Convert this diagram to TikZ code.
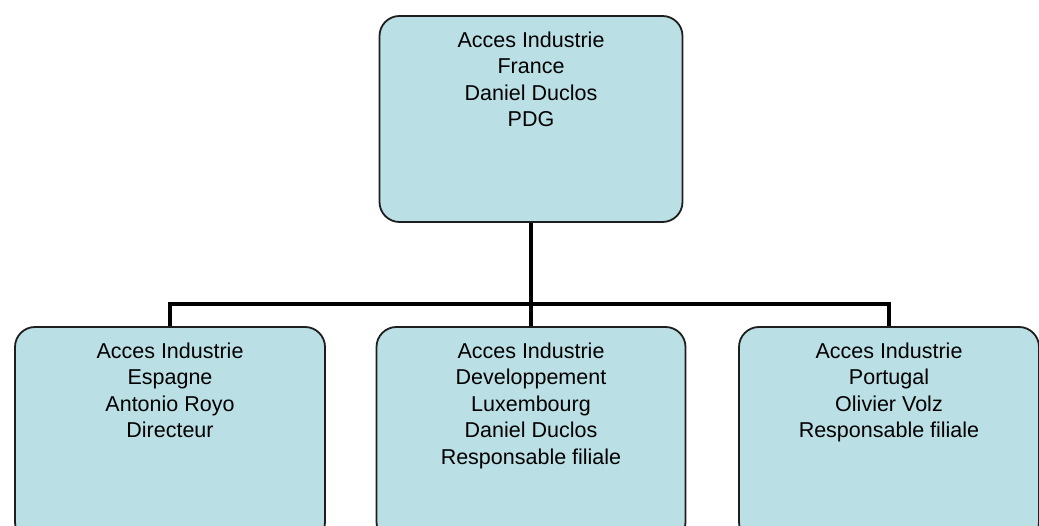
\documentclass[tikz,border=0pt]{standalone}
\usepackage{fontspec}
\setmainfont{Liberation Sans}
\definecolor{boxfill}{RGB}{186,223,228}
\definecolor{boxline}{RGB}{30,30,30}
\begin{document}
\begin{tikzpicture}[x=1pt,y=-1pt,
  orgbox/.style={draw=boxline,line width=1.8pt,fill=boxfill,rounded corners=20pt,inner sep=0pt},
  orgtext/.style={anchor=north,align=center,inner sep=0pt,font=\fontsize{21.5}{26.5}\selectfont},
  conn/.style={line width=4pt,black}]
\useasboundingbox (0,0) rectangle (1039,526);
\clip (0,0) rectangle (1039,526);
\fill[white] (0,0) rectangle (1039,526);
\node[orgbox,minimum width=303pt,minimum height=206pt] (top) at (531,119) {};
\node[orgbox,minimum width=310pt,minimum height=215pt] (left) at (170,434.5) {};
\node[orgbox,minimum width=309pt,minimum height=215pt] (mid) at (531,434.5) {};
\node[orgbox,minimum width=300pt,minimum height=215pt] (right) at (889,434.5) {};
\draw[conn] (top.south) -- (mid.north);
\draw[conn] (left.north) -- ++(0,-22) coordinate (busl) -| (right.north);
\node[orgtext] (ttop) at ([yshift=-16.5pt]top.north) {Acces Industrie\\France\\Daniel Duclos\\PDG};
\node[orgtext] (tleft) at ([yshift=-16.5pt]left.north) {Acces Industrie\\Espagne\\Antonio Royo\\Directeur};
\node[orgtext] (tmid) at ([yshift=-16.5pt]mid.north) {Acces Industrie\\Developpement\\Luxembourg\\Daniel Duclos\\Responsable filiale};
\node[orgtext] (tright) at ([yshift=-16.5pt]right.north) {Acces Industrie\\Portugal\\Olivier Volz\\Responsable filiale};
\end{tikzpicture}
\end{document}
